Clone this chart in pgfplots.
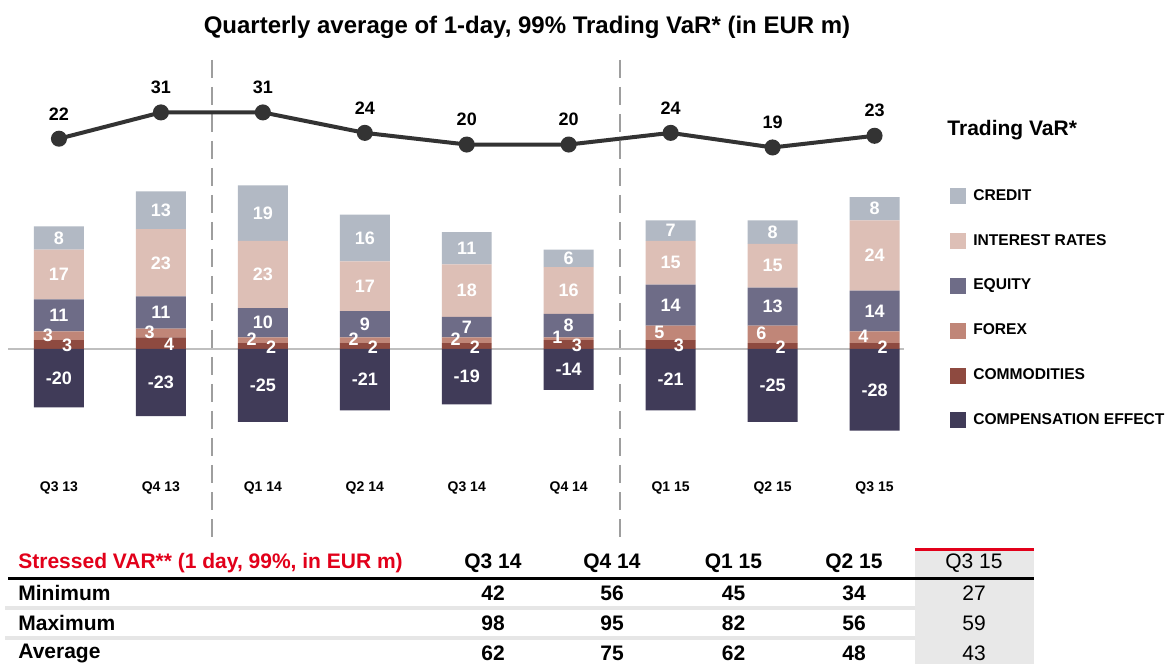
\documentclass[border=0pt]{standalone}
\usepackage{pgfplots}
\usepackage{pgfplotstable}
\pgfplotsset{compat=1.18}
\usepackage{fontspec}
\setmainfont{Liberation Sans}
\definecolor{credit}{HTML}{B2B9C4}
\definecolor{irate}{HTML}{DDBFB6}
\definecolor{equity}{HTML}{6E6C87}
\definecolor{forex}{HTML}{C08678}
\definecolor{commod}{HTML}{8E4A40}
\definecolor{comp}{HTML}{403B58}
\definecolor{linec}{HTML}{333333}
\definecolor{dbred}{HTML}{E2001A}
\definecolor{colshade}{HTML}{E8E8E8}
\definecolor{sepc}{HTML}{E6E6E6}
\newcommand\fs[1]{\fontsize{#1}{#1}\selectfont}

\pgfplotstableread{
q comm forex equity irate credit comp var
0 3 3 11 17 8 -20 22
1 4 3 11 23 13 -23 31
2 2 2 10 23 19 -25 31
3 2 2 9 17 16 -21 24
4 2 2 7 18 11 -19 20
5 3 1 8 16 6 -14 20
6 3 5 14 15 7 -21 24
7 2 6 13 15 8 -25 19
8 2 4 14 24 8 -28 23
}\data

\pgfplotstableread{
x y t
0 38 8
0 25.5 17
0 11.5 11
-0.11 4.8 3
0.08 1.2 3
0 -10 -20
1 47.5 13
1 29.5 23
1 12.5 11
0.89 5.8 3
1.08 1.6 4
1 -11.5 -23
2 46.5 19
2 25.5 23
2 9 10
1.89 3.5 2
2.08 0.6 2
2 -12.5 -25
3 38 16
3 21.5 17
3 8.5 9
2.89 3.5 2
3.08 0.6 2
3 -10.5 -21
4 34.5 11
4 20 18
4 7.5 7
3.89 3.5 2
4.08 0.6 2
4 -9.5 -19
5 31 6
5 20 16
5 8 8
4.89 4 1
5.08 1.1 3
5 -7 -14
6 40.5 7
6 29.5 15
6 15 14
5.89 5.8 5
6.08 1.1 3
6 -10.5 -21
7 40 8
7 28.5 15
7 14.5 13
6.89 5.2 6
7.08 0.6 2
7 -12.5 -25
8 48 8
8 32 24
8 13 14
7.89 4.2 4
8.08 0.6 2
8 -14 -28
}\labels

\pgfplotsset{
  base/.style={
    scale only axis, width=446pt, height=194.2pt,
    at={(4pt,97.65pt)}, anchor=south west,
    xmin=-0.5, xmax=8.25, clip=false,
    /pgf/number format/assume math mode=true,
  },
  sq/.style={legend image code/.code={\fill[#1] (0pt,-3.75pt) rectangle (7.5pt,3.75pt);}},
}

\begin{document}
\begin{tikzpicture}
\useasboundingbox[fill=white] (0,0) rectangle (583pt,332pt);

% title
\node[font=\bfseries\fs{12}] at (263.5pt,318.5pt) {Quarterly average of 1-day, 99\% Trading VaR* (in EUR m)};

% zero line and separators
\draw[black!25, line width=0.8pt] (4pt,157.5pt) -- (452pt,157.5pt);
\draw[black!38, line width=1.2pt, dash pattern=on 9pt off 4.5pt] (106pt,302pt) -- (106pt,59.5pt);
\draw[black!38, line width=1.2pt, dash pattern=on 9pt off 4.5pt] (310pt,302pt) -- (310pt,59.5pt);

% positive stacked bars
\begin{axis}[base, ymin=-41, ymax=92, ybar stacked, bar width=0.49,
  axis line style={draw=none}, major tick length=0pt, ytick=\empty,
  xtick={0,1,2,3,4,5,6,7,8},
  xticklabels={Q3 13,Q4 13,Q1 14,Q2 14,Q3 14,Q4 14,Q1 15,Q2 15,Q3 15},
  xticklabel style={font=\bfseries\fs{7}, yshift=-3pt},
]
\addplot[fill=commod, draw=none] table[x=q, y=comm] \data;
\addplot[fill=forex, draw=none] table[x=q, y=forex] \data;
\addplot[fill=equity, draw=none] table[x=q, y=equity] \data;
\addplot[fill=irate, draw=none] table[x=q, y=irate] \data;
\addplot[fill=credit, draw=none] table[x=q, y=credit] \data;
\end{axis}

% negative bars, segment labels, legend
\begin{axis}[base, ymin=-41, ymax=92, hide axis,
  legend style={at={(1.0561,0.7227)}, anchor=north west, draw=none, fill=none,
    inner sep=0pt, font=\bfseries\fs{7.8}, row sep=14.5pt,
    nodes={inner sep=0pt},
    /tikz/every odd column/.append style={column sep=3.5pt}},
  legend cell align=left,
]
\addplot[ybar, bar width=0.49, fill=comp, draw=none, forget plot] table[x=q, y=comp] \data;
\addplot[draw=none, mark=none, forget plot, nodes near coords, point meta=explicit symbolic,
  every node near coord/.append style={anchor=center, text=white, font=\bfseries\fs{9}}]
  table[x=x, y=y, meta=t] \labels;
\addlegendimage{sq=credit}\addlegendentry{CREDIT}
\addlegendimage{sq=irate}\addlegendentry{INTEREST RATES}
\addlegendimage{sq=equity}\addlegendentry{EQUITY}
\addlegendimage{sq=forex}\addlegendentry{FOREX}
\addlegendimage{sq=commod}\addlegendentry{COMMODITIES}
\addlegendimage{sq=comp}\addlegendentry{COMPENSATION EFFECT}
\end{axis}

% trading VaR line
\begin{axis}[base, ymin=-91, ymax=42, hide axis]
\addplot[linec, line width=2pt, mark=*, mark size=3pt, mark options={fill=linec, draw=linec},
  nodes near coords, every node near coord/.append style={anchor=south, text=black, font=\bfseries\fs{9}, yshift=5pt}]
  table[x=q, y=var] \data;
\end{axis}

\node[anchor=west, font=\bfseries\fs{10.5}, inner sep=0pt] at (473.5pt,267pt) {Trading VaR*};

% table
\fill[colshade] (457.5pt,0pt) rectangle (517pt,57.5pt);
\draw[dbred, line width=1.5pt] (457.5pt,57.5pt) -- (517pt,57.5pt);
\draw[black, line width=1.5pt] (4pt,43pt) -- (517pt,43pt);
\draw[sepc, line width=2pt] (2.5pt,28pt) -- (457.5pt,28pt);
\draw[sepc, line width=2pt] (2.5pt,13pt) -- (457.5pt,13pt);
\node[anchor=west, inner sep=0pt, text=dbred, font=\bfseries\fs{10.5}] at (9pt,50.5pt) {Stressed VAR** (1 day, 99\%, in EUR m)};
\begin{scope}[every node/.style={font=\bfseries\fs{10.5}, inner sep=0pt}]
\node at (246.5pt,50.5pt) {Q3 14};
\node at (306pt,50.5pt) {Q4 14};
\node at (366.75pt,50.5pt) {Q1 15};
\node at (427pt,50.5pt) {Q2 15};
\node[font=\fs{10.5}] at (487pt,50.5pt) {Q3 15};
\node[anchor=west] at (9pt,35.5pt) {Minimum};
\node[anchor=west] at (9pt,20.5pt) {Maximum};
\node[anchor=west] at (9pt,5.5pt) {Average};
\node at (246.5pt,35.5pt) {42};
\node at (306pt,35.5pt) {56};
\node at (366.75pt,35.5pt) {45};
\node at (427pt,35.5pt) {34};
\node[font=\fs{10.5}] at (487pt,35.5pt) {27};
\node at (246.5pt,20.5pt) {98};
\node at (306pt,20.5pt) {95};
\node at (366.75pt,20.5pt) {82};
\node at (427pt,20.5pt) {56};
\node[font=\fs{10.5}] at (487pt,20.5pt) {59};
\node at (246.5pt,5.5pt) {62};
\node at (306pt,5.5pt) {75};
\node at (366.75pt,5.5pt) {62};
\node at (427pt,5.5pt) {48};
\node[font=\fs{10.5}] at (487pt,5.5pt) {43};
\end{scope}
\end{tikzpicture}
\end{document}
